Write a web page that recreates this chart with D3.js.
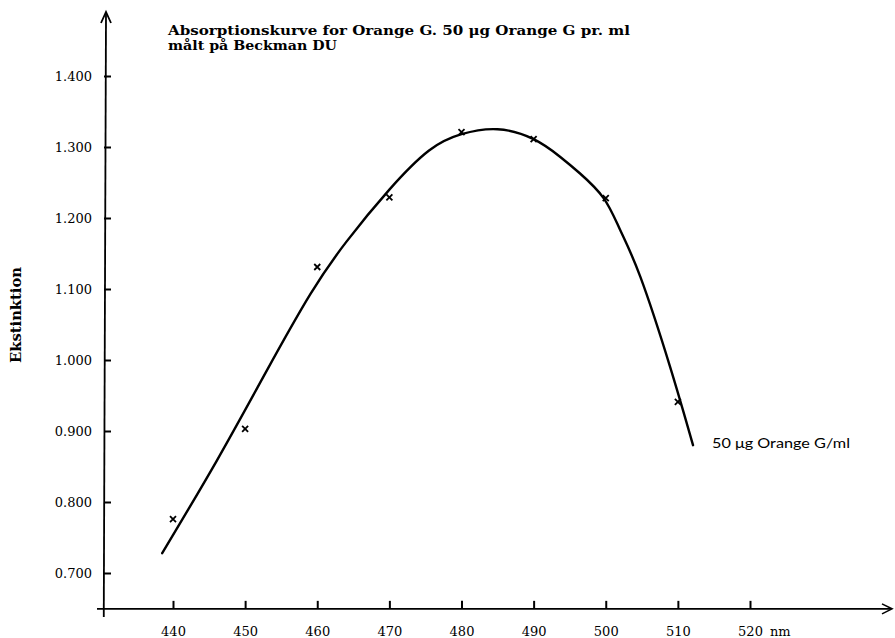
<!DOCTYPE html>
<html><head><meta charset="utf-8">
<script src="https://cdn.jsdelivr.net/npm/d3@7"></script>
<style>body{margin:0;background:#fff}svg{display:block}</style>
</head><body>
<svg id="c" width="895" height="638"></svg>
<script>
// ---- data ----
const xTicks = [440, 450, 460, 470, 480, 490, 500, 510, 520];
const yTicks = [0.7, 0.8, 0.9, 1.0, 1.1, 1.2, 1.3, 1.4];
const pointNm = [440, 450, 460, 470, 480, 490, 500, 510];
const pointExt = [0.776, 0.903, 1.131, 1.229, 1.321, 1.311, 1.228, 0.941];
const curveNm = [438.5, 446, 453, 459, 464, 470, 475.5, 480, 485, 490, 493.7, 496.4, 499.7, 502, 504.8, 508.9, 512.1];
const curveExt = [0.728, 0.857, 0.985, 1.092, 1.166, 1.240, 1.295, 1.318, 1.325, 1.311, 1.286, 1.263, 1.228, 1.183, 1.117, 0.991, 0.880];
const title1 = "Absorptionskurve for Orange G. 50 \u03BCg Orange G pr. ml";
const title2 = "målt på Beckman DU";
const yLabel = "Ekstinktion";
const xUnit = "nm";
const seriesLabel = "50 \u03BCg Orange G/ml";

const svg = d3.select("#c");
const x = d3.scaleLinear().domain([440, 520]).range([173, 750]);
const y = d3.scaleLinear().domain([0.7, 1.4]).range([573, 76]);
const x0 = x(430.4), yBase = y(0.6495);
const serif = "'DejaVu Serif', serif";

// axes lines
svg.append("line").attr("x1", 97).attr("x2", 891).attr("y1", yBase).attr("y2", yBase)
  .attr("stroke", "#000").attr("stroke-width", 1.6);
svg.append("path").attr("d", `M${882},${yBase-5}L${892},${yBase}L${882},${yBase+5}`)
  .attr("fill", "none").attr("stroke", "#000").attr("stroke-width", 1.6);
svg.append("line").attr("x1", x0).attr("x2", 106).attr("y1", 617).attr("y2", 14)
  .attr("stroke", "#000").attr("stroke-width", 1.8);
svg.append("path").attr("d", `M101,23L106,12L111,23`)
  .attr("fill", "none").attr("stroke", "#000").attr("stroke-width", 1.8);

// x ticks
const xAxis = d3.axisBottom(x).tickValues(xTicks).tickSize(0).tickFormat(d3.format("d"));
const gx = svg.append("g").attr("transform", `translate(0,${yBase})`).call(xAxis);
gx.select(".domain").remove();
gx.selectAll(".tick").append("line").attr("y1", 0).attr("y2", -8).attr("stroke", "#000").attr("stroke-width", 2);
gx.selectAll("text").attr("y", 27).attr("dy", 0).attr("font-family", serif).attr("font-size", 13).attr("fill", "#000");
svg.append("text").attr("x", x(520) + 20).attr("y", yBase + 27).attr("font-family", serif).attr("font-size", 13).text(xUnit);

// y ticks
const yAxis = d3.axisLeft(y).tickValues(yTicks).tickSize(0).tickFormat(d3.format(".3f"));
const gy = svg.append("g").attr("transform", `translate(104,0)`).call(yAxis);
gy.select(".domain").remove();
gy.selectAll(".tick").append("line").attr("x1", 0).attr("x2", 7).attr("stroke", "#000").attr("stroke-width", 2);
gy.selectAll("text").attr("x", -12).attr("dy", "0.35em").attr("font-family", serif).attr("font-size", 13).attr("fill", "#000");

// y label
const yl = svg.append("text").attr("transform", `translate(21,315) rotate(-90)`).attr("text-anchor", "middle")
  .attr("font-family", serif).attr("font-weight", "bold").attr("font-size", 14).text(yLabel);

// titles
function fit(sel, w) { const l = sel.node().getComputedTextLength(); if (l > 0) sel.attr("textLength", w).attr("lengthAdjust", "spacingAndGlyphs"); }
fit(yl, 96);
const t1 = svg.append("text").attr("x", 168).attr("y", 35).attr("font-family", serif).attr("font-weight", "bold").attr("font-size", 12.5).text(title1);
fit(t1, 462);
const t2 = svg.append("text").attr("x", 168).attr("y", 50).attr("font-family", serif).attr("font-weight", "bold").attr("font-size", 12.5).text(title2);
fit(t2, 169);

// curve
const curveData = curveNm.map((d, i) => [d, curveExt[i]]);
svg.append("path").datum(curveData)
  .attr("d", d3.line().x(d => x(d[0])).y(d => y(d[1])).curve(d3.curveNatural))
  .attr("fill", "none").attr("stroke", "#000").attr("stroke-width", 2.4).attr("stroke-linecap", "round");

// points (x marks)
const pts = pointNm.map((d, i) => [d, pointExt[i]]);
svg.append("g").selectAll("path").data(pts).join("path")
  .attr("d", d => { const cx = x(d[0]), cy = y(d[1]), s = 3; return `M${cx-s},${cy-s}L${cx+s},${cy+s}M${cx+s},${cy-s}L${cx-s},${cy+s}`; })
  .attr("stroke", "#000").attr("stroke-width", 1.8).attr("fill", "none");

// series label
const sl = svg.append("text").attr("x", 712).attr("y", 448).attr("font-family", "Lato, 'Open Sans', sans-serif").attr("font-size", 14).text(seriesLabel);
fit(sl, 138);
</script>
</body></html>
